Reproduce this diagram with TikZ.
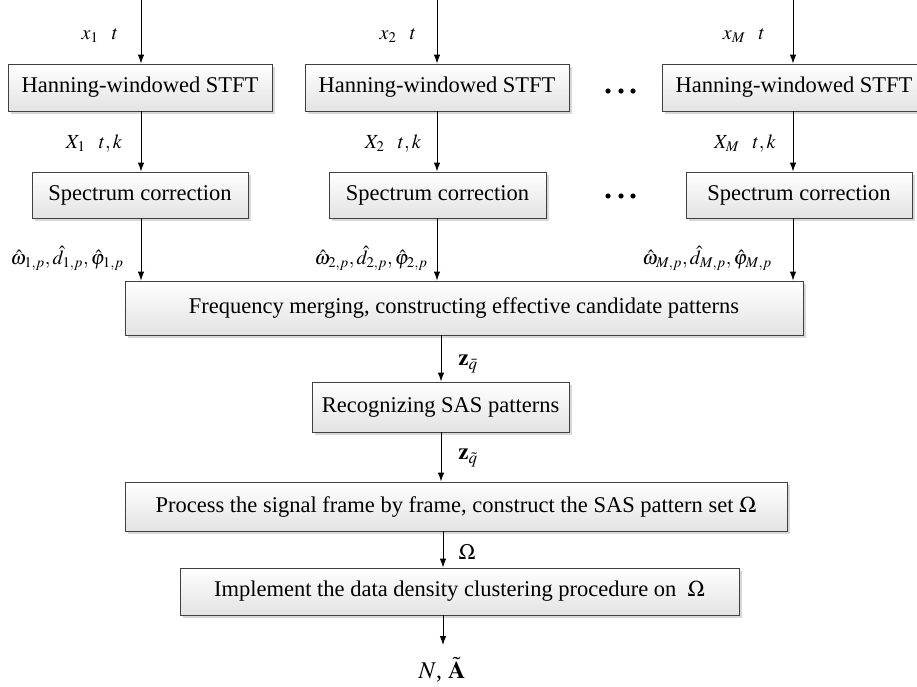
\documentclass[tikz,border=0pt]{standalone}
\usepackage{mathptmx}
\usepackage[no-math]{fontspec}
\setmainfont{Liberation Serif}
\usetikzlibrary{arrows.meta,shadows}
\tikzset{
  box/.style={draw=black!75, line width=0.9pt, top color=white, bottom color=black!11,
    drop shadow={shadow xshift=2.5pt, shadow yshift=-2.5pt, fill=black!30, opacity=0.5},
    inner sep=0pt, font=\fontsize{22.5}{27}\selectfont},
  arr/.style={draw=black, line width=0.9pt, -{Latex[length=9pt,width=6.5pt]}},
  lab/.style={inner sep=0pt, font=\fontsize{20}{24}\selectfont},
  dotmark/.style={fill=black}
}
\begin{document}
\begin{tikzpicture}[x=1pt,y=-1pt]
\useasboundingbox (0,0) rectangle (917,686);
% columns
\coordinate (c1) at (141,0);
\coordinate (c2) at (437,0);
\coordinate (c3) at (793,0);
\coordinate (d1) at (441,0);
\coordinate (d2) at (443,0);
\coordinate (outend) at (443,645);
% STFT boxes
\node[box, minimum width=264pt, minimum height=47pt] (stft1) at (140,87.5) {Hanning-windowed STFT};
\node[box, minimum width=264pt, minimum height=47pt] (stft2) at (437,87.5) {Hanning-windowed STFT};
\node[box, minimum width=264pt, minimum height=47pt] (stft3) at (794,87.5) {Hanning-windowed STFT};
% spectrum correction
\node[box, minimum width=216pt, minimum height=46pt] (sc1) at (140,195) {Spectrum correction};
\node[box, minimum width=217pt, minimum height=46pt] (sc2) at (437.5,195) {Spectrum correction};
\node[box, minimum width=226pt, minimum height=46pt] (sc3) at (799,195) {Spectrum correction};
% lower chain
\node[box, minimum width=678pt, minimum height=54pt] (merge) at (464,308) {Frequency merging, constructing effective candidate patterns};
\node[box, minimum width=257pt, minimum height=50pt] (recog) at (440.5,407) {Recognizing SAS patterns};
\node[box, minimum width=662pt, minimum height=49pt] (proc) at (456,506.5) {Process the signal frame by frame, construct the SAS pattern set $\Omega$};
\node[box, minimum width=559pt, minimum height=47pt] (impl) at (459.5,591.5) {Implement the data density clustering procedure on~ $\Omega$};
% labels
\node[lab] (lx1) at (100,36) {$x_1\;\;\; t$};
\node[lab] (lx2) at (398,36) {$x_2\;\;\; t$};
\node[lab] (lx3) at (744,36) {$x_M\;\;\; t$};
\node[lab] (lX1) at (94,144) {$X_1\;\;\; t,k$};
\node[lab] (lX2) at (393,144) {$X_2\;\;\; t,k$};
\node[lab] (lX3) at (745,144) {$X_M\;\;\; t,k$};
\node[lab] (lh1) at (67,258) {$\hat{\omega}_{1,p},\hat{d}_{1,p},\hat{\varphi}_{1,p}$};
\node[lab] (lh2) at (371,258) {$\hat{\omega}_{2,p},\hat{d}_{2,p},\hat{\varphi}_{2,p}$};
\node[lab] (lh3) at (707,258) {$\hat{\omega}_{M,p},\hat{d}_{M,p},\hat{\varphi}_{M,p}$};
\node[lab, font=\fontsize{23}{27}\selectfont] (lz1) at (468,364) {$\mathbf{z}_{\bar{q}}$};
\node[lab, font=\fontsize{23}{27}\selectfont] (lz2) at (468,458) {$\mathbf{z}_{\tilde{q}}$};
\node[lab, font=\fontsize{22}{26}\selectfont] (lom) at (467,552) {$\Omega$};
\node[lab, font=\fontsize{24}{28}\selectfont] (out) at (442,670) {$N$, $\tilde{\mathbf{A}}$};
% input arrows
\draw[arr] (c1) -- (c1 |- stft1.north);
\draw[arr] (c2) -- (c2 |- stft2.north);
\draw[arr] (c3) -- (c3 |- stft3.north);
\draw[arr] (c1 |- stft1.south) -- (c1 |- sc1.north);
\draw[arr] (c2 |- stft2.south) -- (c2 |- sc2.north);
\draw[arr] (c3 |- stft3.south) -- (c3 |- sc3.north);
\draw[arr] (c1 |- sc1.south) -- (c1 |- merge.north);
\draw[arr] (c2 |- sc2.south) -- (c2 |- merge.north);
\draw[arr] (c3 |- sc3.south) -- (c3 |- merge.north);
\draw[arr] (d1 |- merge.south) -- (d1 |- recog.north);
\draw[arr] (d1 |- recog.south) -- (d1 |- proc.north);
\draw[arr] (d2 |- proc.south) -- (d2 |- impl.north);
\draw[arr] (d2 |- impl.south) -- (outend);
% dots
\foreach \xx in {608,621,633} {
  \fill[dotmark] (\xx,91) circle (2.6);
  \fill[dotmark] (\xx,196) circle (2.6);
}
\end{tikzpicture}
\end{document}
